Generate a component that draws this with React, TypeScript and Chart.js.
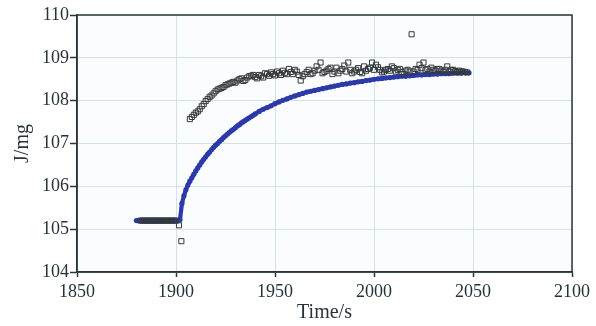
import React, { useEffect, useRef } from "react";
import { Chart, registerables } from "chart.js";

Chart.register(...registerables);

const blueTimes = [
  1880, 1882, 1884, 1886, 1888, 1890, 1892, 1894, 1896, 1898, 1900, 1901, 1902,
  1903, 1904, 1905, 1906, 1907, 1908, 1909, 1910, 1911, 1912, 1913, 1914, 1915,
  1916, 1917, 1918, 1919, 1920, 1921, 1922, 1923, 1924, 1925, 1926, 1927, 1928,
  1929, 1930, 1931, 1932, 1933, 1934, 1935, 1936, 1937, 1938, 1939, 1940,
  1942, 1944, 1946, 1948, 1950, 1952, 1954, 1956, 1958, 1960, 1962, 1964,
  1966, 1968, 1970, 1972, 1974, 1976, 1978, 1980, 1982, 1984, 1986, 1988, 1990,
  1992, 1994, 1996, 1998, 2000, 2002, 2004, 2006, 2008, 2010, 2012, 2014, 2016,
  2018, 2020, 2022, 2024, 2026, 2028, 2030, 2032, 2034, 2036, 2038, 2040, 2042,
  2044, 2046, 2048,
];
const blueValues = [
  105.2, 105.2, 105.2, 105.2, 105.2, 105.2, 105.2, 105.2, 105.2, 105.2, 105.2, 105.2, 105.22,
  105.6, 105.78, 105.92, 106.03, 106.12, 106.2, 106.28, 106.36, 106.43, 106.5, 106.57, 106.63, 106.69,
  106.75, 106.8, 106.86, 106.91, 106.96, 107.0, 107.05, 107.09, 107.14, 107.18, 107.22, 107.26, 107.3,
  107.33, 107.37, 107.41, 107.44, 107.48, 107.51, 107.54, 107.57, 107.6, 107.63, 107.66, 107.69,
  107.75, 107.8, 107.84, 107.88, 107.93, 107.97, 108.01, 108.04, 108.08, 108.11, 108.14, 108.17,
  108.2, 108.22, 108.24, 108.26, 108.28, 108.3, 108.32, 108.34, 108.36, 108.38, 108.39, 108.41, 108.42,
  108.44, 108.45, 108.47, 108.48, 108.5, 108.51, 108.52, 108.53, 108.54, 108.55, 108.56, 108.57, 108.57,
  108.58, 108.59, 108.6, 108.6, 108.61, 108.61, 108.62, 108.62, 108.63, 108.63, 108.63, 108.64, 108.64,
  108.64, 108.65, 108.65,
];

const squareTimes = [
  1882, 1883, 1884, 1885, 1886, 1887, 1888, 1889, 1890, 1891, 1892, 1893, 1894,
  1895, 1896, 1897, 1898, 1899, 1900, 1901.5, 1902.7,
  1907, 1908, 1909, 1910, 1911, 1912, 1913, 1914, 1915, 1916, 1917, 1918, 1919,
  1920, 1921, 1922, 1923, 1924, 1925, 1926, 1927, 1928, 1929, 1930, 1931, 1932,
  1933, 1934, 1935, 1936, 1937, 1938, 1939, 1940,
  1941, 1942, 1943, 1944, 1945, 1946, 1947, 1948, 1949, 1950, 1951, 1952, 1953, 1954,
  1955, 1956, 1957, 1958, 1959, 1960, 1961, 1962, 1963, 1964, 1965, 1966, 1967, 1968,
  1969, 1970, 1971, 1972, 1973, 1974, 1975, 1976, 1977, 1978, 1979, 1980, 1981, 1982,
  1983, 1984, 1985, 1986, 1987, 1988, 1989, 1990, 1991, 1992, 1993, 1994, 1995, 1996,
  1997, 1998, 1999, 2000, 2001, 2002, 2003, 2004, 2005, 2006, 2007, 2008, 2009, 2010,
  2011, 2012, 2013, 2014, 2015, 2016, 2017, 2018, 2019, 2020, 2021, 2022, 2023, 2024,
  2025, 2026, 2027, 2028, 2029, 2030, 2031, 2032, 2033, 2034, 2035, 2036, 2037, 2038,
  2039, 2040, 2041, 2042, 2043, 2044, 2045, 2046, 2047,
];
const squareValues = [
  105.2, 105.2, 105.2, 105.2, 105.2, 105.2, 105.2, 105.2, 105.2, 105.2, 105.2, 105.2, 105.2,
  105.2, 105.2, 105.2, 105.2, 105.2, 105.2, 105.09, 104.72,
  107.57, 107.62, 107.67, 107.72, 107.75, 107.8, 107.87, 107.92, 107.99, 108.04, 108.09, 108.12, 108.17,
  108.22, 108.26, 108.28, 108.3, 108.32, 108.36, 108.38, 108.4, 108.42, 108.44, 108.42, 108.47, 108.5,
  108.52, 108.46, 108.48, 108.54, 108.57, 108.58, 108.6, 108.55,
  108.52, 108.6, 108.57, 108.54, 108.64, 108.62, 108.58, 108.66, 108.62, 108.59, 108.68, 108.64, 108.6, 108.7,
  108.65, 108.62, 108.74, 108.67, 108.62, 108.72, 108.68, 108.6, 108.47, 108.57, 108.62, 108.67, 108.72, 108.62,
  108.64, 108.7, 108.8, 108.72, 108.89, 108.64, 108.67, 108.7, 108.74, 108.77, 108.62, 108.68, 108.77, 108.64,
  108.7, 108.74, 108.82, 108.68, 108.89, 108.72, 108.64, 108.68, 108.72, 108.76, 108.67, 108.64, 108.8, 108.7,
  108.74, 108.77, 108.89, 108.72, 108.84, 108.78, 108.72, 108.66, 108.68, 108.72, 108.74, 108.7, 108.8, 108.76,
  108.68, 108.72, 108.74, 108.67, 108.62, 108.7, 108.72, 108.68, 109.55, 108.68, 108.74, 108.72, 108.84, 108.76,
  108.89, 108.72, 108.74, 108.68, 108.77, 108.72, 108.7, 108.74, 108.74, 108.7, 108.67, 108.72, 108.8, 108.68,
  108.72, 108.72, 108.69, 108.67, 108.7, 108.68, 108.68, 108.67, 108.66,
];

const xTicks = [1850, 1900, 1950, 2000, 2050, 2100];
const yTicks = [104, 105, 106, 107, 108, 109, 110];
const xTitle = "Time/s";
const yTitle = "J/mg";

const FONT = '"Liberation Serif", "Times New Roman", serif';
const TEXT = "#26343a";
const AXIS = "#2a3638";
const GRID = "#d3e2ea";

const framePlugin = {
  id: "frame",
  beforeDraw(chart: any) {
    const { ctx, chartArea } = chart;
    ctx.save();
    ctx.fillStyle = "#fafcfe";
    ctx.fillRect(chartArea.left, chartArea.top, chartArea.right - chartArea.left, chartArea.bottom - chartArea.top);
    ctx.restore();
  },
  afterDatasetsDraw(chart: any) {
    const { ctx, chartArea } = chart;
    ctx.save();
    ctx.strokeStyle = AXIS;
    ctx.lineWidth = 1.5;
    ctx.strokeRect(chartArea.left, chartArea.top, chartArea.right - chartArea.left, chartArea.bottom - chartArea.top);
    ctx.restore();
  },
};

export default function App() {
  const ref = useRef<HTMLCanvasElement>(null);
  useEffect(() => {
    const chart = new Chart(ref.current!, {
      type: "scatter",
      data: {
        datasets: [
          {
            label: "measured",
            data: squareTimes.map((t, i) => ({ x: t, y: squareValues[i] })),
            pointStyle: "rect",
            pointRadius: 3.6,
            pointBorderWidth: 1,
            pointBorderColor: "#34393b",
            pointBackgroundColor: "rgba(255,255,255,0)",
            showLine: false,
          },
          {
            label: "model",
            data: blueTimes.map((t, i) => ({ x: t, y: blueValues[i] })),
            pointStyle: "circle",
            pointRadius: 2.6,
            pointBorderWidth: 0,
            pointBackgroundColor: "#2c3aa8",
            showLine: true,
            borderColor: "#2c3aa8",
            borderWidth: 4.2,
            tension: 0,
          },
        ],
      },
      options: {
        animation: false,
        responsive: false,
        maintainAspectRatio: false,
        layout: { padding: { left: 0, right: 24, top: 15, bottom: 0 } },
        plugins: { legend: { display: false }, tooltip: { enabled: false } },
        scales: {
          x: {
            type: "linear",
            min: 1850,
            max: 2100,
            afterBuildTicks: (s: any) => {
              s.ticks = xTicks.map((v) => ({ value: v }));
            },
            afterFit: (s: any) => {
              s.height = 54;
            },
            ticks: {
              font: { family: FONT, size: 18 },
              color: TEXT,
              padding: 4,
              maxRotation: 0,
              callback: (v: any) => String(v),
            },
            grid: { color: GRID, lineWidth: 1, tickLength: 5, tickColor: AXIS, tickWidth: 1.5 },
            border: { display: true, color: AXIS, width: 1.5 },
            title: {
              display: true,
              text: xTitle,
              font: { family: FONT, size: 20 },
              color: TEXT,
              padding: { top: 0, bottom: 1 },
            },
          },
          y: {
            type: "linear",
            min: 104,
            max: 110,
            afterBuildTicks: (s: any) => {
              s.ticks = yTicks.map((v) => ({ value: v }));
            },
            afterFit: (s: any) => {
              s.width = 77;
            },
            ticks: {
              font: { family: FONT, size: 18 },
              color: TEXT,
              padding: 1,
              callback: (v: any) => String(v),
            },
            grid: { color: GRID, lineWidth: 1, tickLength: 7, tickColor: AXIS, tickWidth: 1.5 },
            border: { display: true, color: AXIS, width: 1.5 },
            title: {
              display: true,
              text: yTitle,
              font: { family: FONT, size: 20 },
              color: TEXT,
              padding: { top: 11, bottom: 0 },
            },
          },
        },
      },
      plugins: [framePlugin],
    } as any);
    return () => chart.destroy();
  }, []);
  return (
    <div style={{ position: "fixed", left: 0, top: 0, width: 596, height: 326, background: "#fff" }}>
      <canvas ref={ref} width={596} height={326} style={{ width: 596, height: 326, display: "block" }} />
    </div>
  );
}
